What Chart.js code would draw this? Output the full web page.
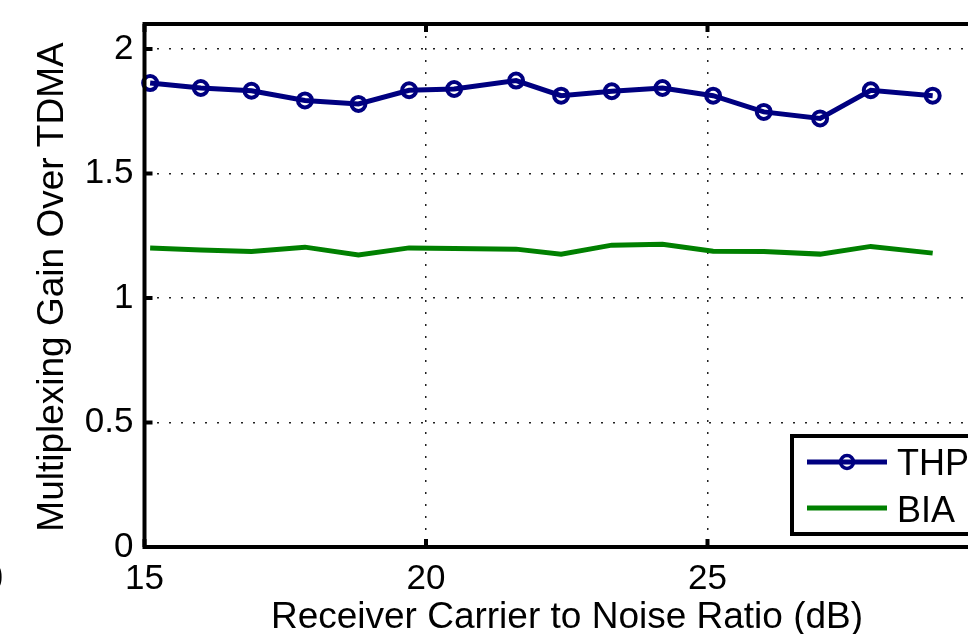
<!DOCTYPE html>
<html>
<head>
<meta charset="utf-8">
<script src="https://cdn.jsdelivr.net/npm/chart.js@4.4.1/dist/chart.umd.min.js"></script>
<style>
  html, body { margin: 0; padding: 0; background: #fff; overflow: hidden; }
  .c { position: relative; width: 1000px; height: 634px; }
</style>
</head>
<body>
<div class="c"><canvas id="chart-1"></canvas></div>
<script>
const snr = [15.1, 16.0, 16.9, 17.85, 18.8, 19.7, 20.5, 21.6, 22.4, 23.3, 24.2, 25.1, 26.0, 27.0, 27.9, 29.0];
const thp = [1.863, 1.843, 1.832, 1.793, 1.779, 1.834, 1.839, 1.873, 1.812, 1.830, 1.843, 1.812, 1.747, 1.721, 1.834, 1.812];
const bia = [1.201, 1.193, 1.187, 1.204, 1.173, 1.201, 1.199, 1.196, 1.176, 1.212, 1.216, 1.188, 1.187, 1.176, 1.207, 1.180];
const xTicks = [15, 20, 25];
const yTicks = [0, 0.5, 1, 1.5, 2];
const seriesNames = ['THP', 'BIA'];
const xTitle = 'Receiver Carrier to Noise Ratio (dB)';
const yTitle = 'Multiplexing Gain Over TDMA';

const FONT = '"Liberation Sans", Arial, Helvetica, sans-serif';
const NAVY = '#000080';
const GREEN = '#008000';

// frame, inward ticks, legend and axis titles (matlab look)
const matlabBits = {
  id: 'matlabBits',
  afterDatasetsDraw(chart) {
    const ctx = chart.ctx;
    const { left, right, top, bottom } = chart.chartArea;
    const xs = chart.scales.x, ys = chart.scales.y;
    ctx.save();
    ctx.strokeStyle = '#000';
    ctx.lineWidth = 4;
    ctx.beginPath();
    ctx.moveTo(left, top); ctx.lineTo(right + 2, top);
    ctx.moveTo(left, top - 2); ctx.lineTo(left, bottom + 2);
    ctx.moveTo(left - 2, bottom); ctx.lineTo(right + 2, bottom);
    ctx.stroke();

    ctx.lineWidth = 4;
    ctx.beginPath();
    yTicks.forEach(v => {
      const y = ys.getPixelForValue(v);
      ctx.moveTo(left, y); ctx.lineTo(left + 8, y);
    });
    xTicks.forEach(v => {
      const x = xs.getPixelForValue(v);
      ctx.moveTo(x, bottom); ctx.lineTo(x, bottom - 8);
      ctx.moveTo(x, top); ctx.lineTo(x, top + 8);
    });
    ctx.stroke();

    // legend
    ctx.fillStyle = '#fff';
    ctx.fillRect(792, 436, 205, 98);
    ctx.lineWidth = 4;
    ctx.strokeRect(792, 436, 205, 98);

    ctx.lineWidth = 5;
    ctx.strokeStyle = NAVY;
    ctx.beginPath(); ctx.moveTo(807, 462); ctx.lineTo(887, 462); ctx.stroke();
    ctx.lineWidth = 3.5;
    ctx.beginPath(); ctx.arc(847, 462, 6.5, 0, Math.PI * 2); ctx.stroke();
    ctx.lineWidth = 5;
    ctx.strokeStyle = GREEN;
    ctx.beginPath(); ctx.moveTo(807, 508); ctx.lineTo(887, 508); ctx.stroke();

    ctx.fillStyle = '#000';
    ctx.font = '36px ' + FONT;
    ctx.textAlign = 'left';
    ctx.textBaseline = 'alphabetic';
    ctx.fillText(seriesNames[0], 897, 475);
    ctx.fillText(seriesNames[1], 897, 522);

    // axis titles
    ctx.font = '37px ' + FONT;
    ctx.textAlign = 'center';
    ctx.fillText(xTitle, 567, 628);
    ctx.translate(63, 287);
    ctx.rotate(-Math.PI / 2);
    ctx.fillText(yTitle, 0, 0);
    ctx.restore();

    // stray label from the neighbouring panel
    ctx.save();
    ctx.fillStyle = '#000';
    ctx.font = '36px ' + FONT;
    ctx.textAlign = 'right';
    ctx.fillText('0', 3, 590);
    ctx.restore();
  }
};

new Chart(document.getElementById('chart-1'), {
  type: 'line',
  data: {
    datasets: [
      {
        label: seriesNames[0],
        data: snr.map((x, i) => ({ x, y: thp[i] })),
        borderColor: NAVY,
        borderWidth: 5,
        pointRadius: 7,
        pointBorderWidth: 4,
        pointBackgroundColor: 'rgba(0,0,0,0)',
        pointBorderColor: NAVY,
        tension: 0,
        clip: 6
      },
      {
        label: seriesNames[1],
        data: snr.map((x, i) => ({ x, y: bia[i] })),
        borderColor: GREEN,
        borderWidth: 5,
        pointRadius: 0,
        tension: 0
      }
    ]
  },
  options: {
    responsive: true,
    maintainAspectRatio: false,
    animation: false,
    devicePixelRatio: 1,
    layout: { padding: { top: 24, right: 8.5, left: 0, bottom: 0 } },
    plugins: {
      legend: { display: false },
      tooltip: { enabled: false }
    },
    scales: {
      x: {
        type: 'linear',
        min: 15,
        max: 30,
        afterBuildTicks: s => { s.ticks = xTicks.map(v => ({ value: v })) },
        afterFit: s => { s.height = 87; s.paddingLeft = 0; s.paddingRight = 0 },
        ticks: {
          color: '#000',
          font: { family: FONT, size: 35 },
          padding: 11,
          maxRotation: 0,
          callback: v => String(v)
        },
        grid: { color: '#222', lineWidth: 1.5, drawTicks: false },
        border: { display: false, dash: [2, 10] }
      },
      y: {
        type: 'linear',
        min: 0,
        max: 2.1,
        afterBuildTicks: s => { s.ticks = yTicks.map(v => ({ value: v })) },
        afterFit: s => { s.width = 144.5; s.paddingTop = 0; s.paddingBottom = 0 },
        ticks: {
          color: '#000',
          font: { family: FONT, size: 35 },
          padding: 11,
          callback: v => String(v)
        },
        grid: { color: '#222', lineWidth: 1.5, drawTicks: false },
        border: { display: false, dash: [2, 10] }
      }
    }
  },
  plugins: [matlabBits]
});
</script>
</body>
</html>
